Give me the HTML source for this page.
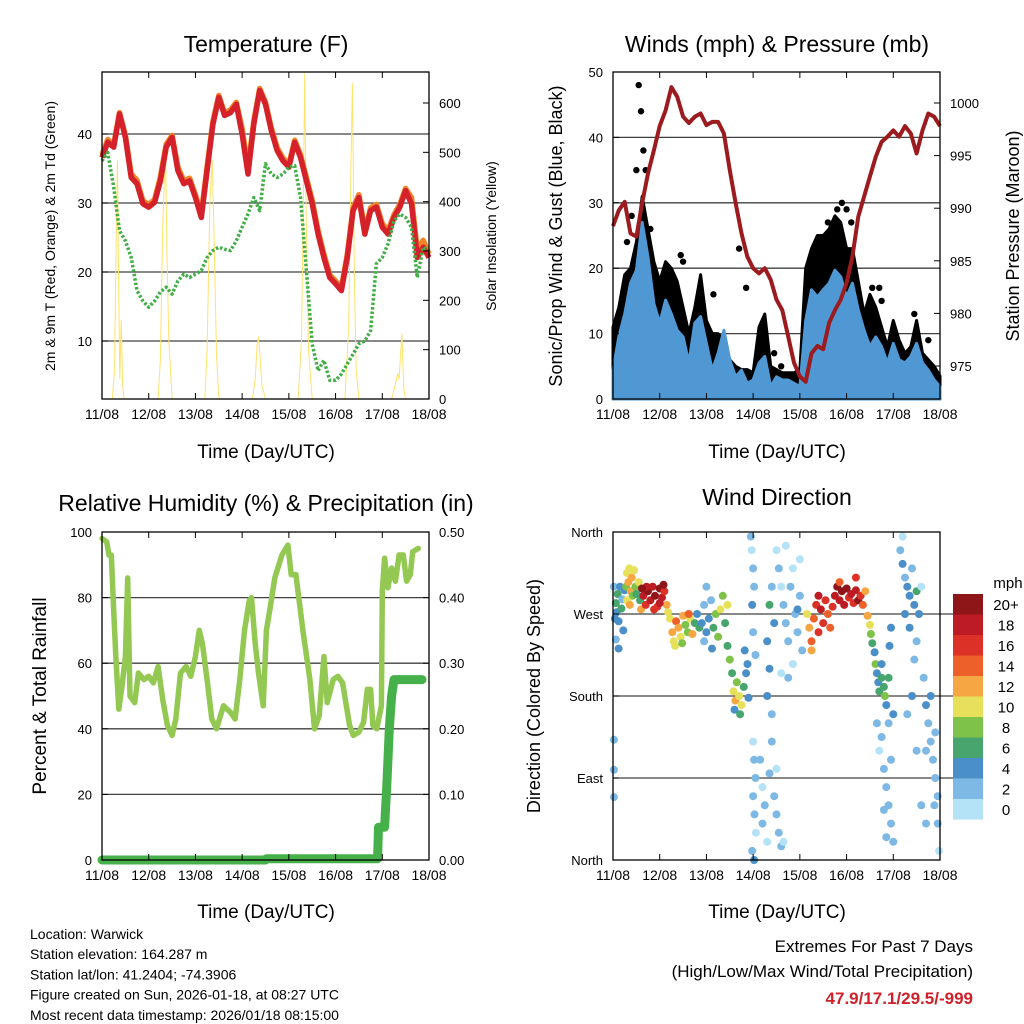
<!DOCTYPE html>
<html><head><meta charset="utf-8"><style>
html,body{margin:0;padding:0;background:#fff}
svg{display:block;font-family:"Liberation Sans",sans-serif}
</style></head><body>
<svg id="c" width="1024" height="1024" viewBox="0 0 1024 1024"></svg>
<script>
// ---------- DATA ----------
const tempDays=[0,0.125,0.25,0.375,0.5,0.625,0.75,0.875,1,1.125,1.25,1.375,1.5,1.625,1.75,1.875,2,2.125,2.25,2.375,2.5,2.625,2.75,2.875,3,3.125,3.25,3.375,3.5,3.625,3.75,3.875,4,4.125,4.25,4.375,4.5,4.625,4.75,4.875,5,5.125,5.25,5.375,5.5,5.625,5.75,5.875,6,6.125,6.25,6.375,6.5,6.625,6.75,6.875,7];
const temp2m=[36.6,38.8,38.1,42.9,39.5,33.7,32.8,29.9,29.4,30.1,33.2,38.1,39.5,34.7,32.8,33.2,30.8,27.9,34.7,41.4,45.3,42.7,43.1,44.3,40,34.2,41.4,46.3,44.3,40.5,37.6,36.1,35.2,38.8,36.6,33.2,29.9,25.5,22.1,19.2,18.3,17.3,22.1,28.9,30.8,25.5,28.9,29.4,26.5,25.5,27.9,29.4,31.8,29.9,22.1,23.6,22.1];
const temp9m=[37.0,39.2,38.4,43.1,39.8,34.2,33.3,30.3,29.8,30.5,33.8,38.5,39.8,35.2,33.2,33.6,31.2,28.4,35.3,41.8,45.6,43.0,43.5,44.6,40.8,35.0,41.9,46.6,44.6,40.9,38.0,36.5,35.6,39.1,37.0,33.7,30.4,26.0,22.6,19.6,18.7,17.7,22.6,29.3,31.2,26.0,29.3,29.8,27.0,26.0,28.3,29.8,32.1,30.8,23.2,24.6,22.6];
const dewpt=[36.1,37.3,32.3,26.0,24.5,22.1,17.3,15.8,14.9,15.8,17.1,17.8,16.8,18.7,19.7,19.2,19.7,20.2,22.1,23.1,23.6,23.3,23.1,24.5,26.5,28.4,30.8,28.9,35.7,34.2,33.7,34.2,35.2,35.4,30.8,20.2,9.6,5.7,7.2,4.3,4.3,5.2,6.7,8.1,9.6,10.0,11.5,21.2,22.1,24.1,27.4,28.4,27.9,26.5,19.2,23.6,23.1];
const solarDays=[0,0.22,0.27,0.3,0.33,0.36,0.38,0.41,0.44,0.47,1.2,1.25,1.3,1.36,1.39,1.43,1.5,2.2,2.25,2.31,2.36,2.4,2.45,2.5,3.22,3.28,3.32,3.35,3.38,3.42,3.5,4.2,4.27,4.31,4.34,4.37,4.42,4.5,5.2,5.28,5.33,5.36,5.4,5.44,5.5,6.2,6.28,6.33,6.36,6.42,6.46,6.5,7];
const solarVals=[0,0,60,300,484,200,40,160,30,0,0,80,350,511,300,120,0,0,100,400,484,330,90,0,0,40,110,126,90,30,0,0,120,400,660,380,100,0,0,150,480,640,260,60,0,0,30,52,40,133,20,0,0];
const presDays=tempDays;
const pressure=[988.3,989.8,990.6,987.6,987.3,990.5,993.3,995.5,997.8,999.3,1001.5,1000.6,998.7,998.1,998.7,999.0,997.9,998.2,998.2,997.1,993.6,990.5,987.6,985.4,984.3,983.8,984.3,983.2,981.3,980.3,977.8,975.3,974.0,973.5,976.2,976.9,976.6,979.1,980.3,981.3,982.9,985.4,989.2,991.1,993.0,994.9,996.3,996.8,997.4,996.8,997.8,997.1,995.2,997.4,999.0,998.7,997.8];
const windHigh=[4.4,9.5,13,17.7,19.7,27,21.7,14.6,11.6,15.1,13,10.5,9.5,5.5,11.6,12.6,8.5,4.4,7,10.5,6,3.4,4.4,2.4,2.9,5.5,6.5,1.9,3.4,2.9,2.9,2.4,1.9,12,16.7,15.6,16.7,17.7,19.7,18.7,15.6,17.7,13.6,10.5,8,9.5,8,5.5,8.5,6,5.5,6.5,8.5,5.5,4.4,2.9,1.9];
const gustHigh=[11,14,19,20,24,31,26,21,18,21,20,18,14,10,14,19,12,10,10,9,6,5,4.5,4.5,4,11,13,5,4.5,4,4,4,4.5,20,23,25,25,26,28,27,23,23,18,13,16,14,11,8,12,9,7,8,12,7,6,5,3.5];
const gustDotDays=[0.55,0.6,0.5,0.4,0.3,1.45,1.5,2.7,2.85,3.45,3.6,4.9,5.0,5.55,5.7,5.75,6.45,6.75,0.8,2.15,0.65,0.7,4.6,4.8,5.1];
const gustDotVals=[48,44,35,28,24,22,21,23,17,7,5,30,29,17,17,15,13,9,26,16,38,35,27,29,27];
const rhDays=[0,0.1,0.15,0.2,0.25,0.3,0.36,0.42,0.5,0.55,0.6,0.7,0.78,0.9,1,1.1,1.2,1.3,1.4,1.5,1.58,1.68,1.8,1.9,2,2.08,2.15,2.25,2.35,2.45,2.6,2.75,2.85,2.95,3.05,3.15,3.2,3.28,3.35,3.45,3.52,3.6,3.7,3.85,3.98,4.05,4.15,4.3,4.45,4.55,4.65,4.75,4.82,4.95,5.05,5.15,5.3,5.38,5.5,5.6,5.68,5.75,5.8,5.88,5.98,6,6.05,6.12,6.2,6.28,6.36,6.45,6.52,6.6,6.65,6.77];
const rhVals=[98,97,93,93,76,61,46,52,62,86,50,48,57,55,56,54,59,49,41,38,43,57,59,56,62,70,66,55,43,40,47,45,43,55,70,79,80,66,57,47,70,77,86,93,96,87,87,70,55,40,44,62,48,55,56,54,41,38,39,42,52,52,41,40,47,82,92,83,89,85,93,93,85,87,94,95];
const precipDays=[0,3.5,3.52,5.9,5.92,6.05,6.1,6.15,6.2,6.25,6.85];
const precipVals=[0,0,0.002,0.002,0.05,0.05,0.12,0.2,0.25,0.275,0.275];
const dirDay=[0.02,0.04,0.06,0.08,0.1,0.12,0.15,0.18,0.2,0.22,0.25,0.06,0.12,0.02,0.02,0.02,
0.28,0.3,0.33,0.35,0.38,0.4,0.42,0.45,0.48,0.3,0.36,0.5,0.55,0.58,
0.6,0.65,0.7,0.75,0.8,0.85,0.9,0.95,1.0,1.05,1.1,1.15,0.72,0.88,1.0,1.08,1.18,0.62,
1.22,1.27,1.3,1.35,1.4,1.45,1.5,1.55,1.6,1.65,1.7,1.75,1.8,1.85,1.33,1.48,1.62,
1.9,1.95,2.0,2.05,2.1,2.15,2.2,2.25,2.3,2.35,2.4,2.45,2.0,1.95,2.12,
2.45,2.5,2.55,2.58,2.62,2.65,2.7,2.75,2.8,2.85,2.88,2.6,2.72,2.82,2.9,
2.95,2.97,3.0,3.02,2.98,3.0,3.05,3.0,3.02,3.05,3.0,3.03,3.06,2.98,3.02,
3.15,3.2,3.25,3.2,3.3,3.35,3.4,3.45,3.5,3.55,3.5,3.6,3.4,3.3,3.35,3.3,3.35,3.4,3.45,3.65,
3.5,3.55,3.6,3.65,3.7,3.75,3.8,3.85,3.9,3.95,4.0,4.05,3.7,3.85,3.75,4.0,3.6,3.95,
4.15,4.2,4.25,4.3,4.35,4.4,4.45,4.5,4.55,4.6,4.65,4.7,4.25,4.4,
4.75,4.8,4.85,4.9,4.95,5.0,5.05,5.1,5.15,5.2,5.25,5.3,5.35,5.4,4.85,5.2,
5.45,5.5,5.52,5.55,5.6,5.62,
5.65,5.68,5.7,5.75,5.8,5.82,5.85,5.9,5.75,5.92,5.95,
5.65,5.7,5.75,5.8,5.85,5.9,5.95,6.0,5.8,5.9,6.0,5.95,5.85,
6.15,6.2,6.25,6.3,6.35,6.4,6.45,6.5,6.55,6.2,6.6,6.25,6.35,6.45,6.4,6.3,6.5,
6.65,6.7,6.75,6.8,6.85,6.9,6.95,6.7,6.8,6.9,6.95,6.98,6.6,6.5,6.7,6.88];
const dirDeg=[300,265,282,272,292,262,300,276,286,252,296,242,232,132,99,69,
300,315,305,320,295,310,290,318,300,285,280,292,305,285,
275,290,280,295,285,300,290,278,298,288,295,280,300,275,282,302,272,298,
265,250,240,262,255,245,268,258,250,265,248,260,270,255,235,238,270,
260,280,250,265,285,255,270,245,275,290,260,280,300,240,232,
235,220,205,185,175,195,180,170,190,205,215,165,160,230,178,
355,340,320,300,280,250,225,130,110,90,70,50,30,10,0,
110,80,60,40,20,95,130,70,50,30,100,15,160,180,210,240,280,300,260,20,
340,320,300,280,260,240,300,320,270,250,290,230,345,215,200,330,205,275,
270,255,240,265,280,250,275,260,285,270,255,278,230,290,
290,300,285,295,280,298,288,292,282,296,285,290,280,295,305,310,
268,258,248,238,228,215,
205,195,185,200,190,180,170,200,215,235,255,
150,120,135,100,80,60,40,20,55,150,160,110,25,
340,325,310,300,290,320,280,295,270,355,300,270,255,220,180,160,240,
200,170,150,130,110,90,70,120,180,140,40,10,60,120,40,60];
const dirSpd=[3,4,6,5,7,4,5,6,3,4,5,3,4,2,2,2,
8,11,12,10,13,12,9,11,8,10,12,7,10,6,
12,18,16,20,19,18,20,17,21,19,16,12,19,17,18,20,10,21,
10,12,11,14,13,10,12,9,8,10,12,7,5,6,10,9,14,
4,3,5,4,2,6,8,9,10,8,7,10,3,2,4,
6,8,7,10,12,9,11,10,6,5,4,4,7,4,5,
2,1,2,3,4,3,2,1,2,2,3,2,1,3,4,
2,1,2,2,1,3,2,2,2,3,1,2,2,5,4,5,6,2,4,1,
1,2,1,2,3,2,2,1,3,2,3,2,1,1,2,1,1,5,
10,12,14,15,16,17,18,16,17,15,14,16,12,18,
18,20,19,21,18,20,17,19,16,18,20,17,14,12,14,16,
12,10,8,6,5,8,
5,4,6,7,6,8,5,6,4,5,4,
2,1,2,3,2,3,2,3,2,2,4,3,2,
3,4,3,4,5,2,4,7,4,1,1,4,4,3,4,3,3,
3,4,3,2,3,2,3,2,4,3,2,1,2,3,2,3];
const dayLabels=["11/08","12/08","13/08","14/08","15/08","16/08","17/08","18/08"];
const tempTicks=[10,20,30,40];
const solarTicks=[0,100,200,300,400,500,600];
const windTicks=[0,10,20,30,40,50];
const presTicks=[975,980,985,990,995,1000];
const rhTicks=[0,20,40,60,80,100];
const precipTicks=[0,0.1,0.2,0.3,0.4,0.5];
const dirTicks=[0,90,180,270,360];
const dirLabels=["North","East","South","West","North"];
const cbLabels=["20+","18","16","14","12","10","8","6","4","2","0"];
const cbColors=["#8e1518","#bd1c24","#dc3127","#ee602a","#f6a744","#e7e05a","#7ec24a","#47a56d","#4a8fc7","#7db9e4","#b4e2f7"];

// ---------- HELPERS ----------
const NS="http://www.w3.org/2000/svg";
const svg=document.getElementById('c');
function mk(tag,attrs,parent){const e=document.createElementNS(NS,tag);for(const k in attrs)e.setAttribute(k,attrs[k]);(parent||svg).appendChild(e);return e;}
function txt(s,x,y,size,anchor,parent,extra){const t=mk('text',Object.assign({x:x,y:y,'font-size':size,'text-anchor':anchor||'middle',fill:'#000'},extra||{}),parent);t.textContent=s;return t;}
function lin(d0,d1,r0,r1){return v=>r0+(v-d0)*(r1-r0)/(d1-d0);}
function path(xs,ys,fx,fy){return xs.map((v,i)=>(i?'L':'M')+fx(v).toFixed(1)+','+fy(ys[i]).toFixed(1)).join('');}

function panel(name,x0,y0,x1,y1){
  const g=mk('g',{},svg);
  
  
  const fx=lin(0,7,x0,x1);
  return {g,fx,x0,y0,x1,y1};
}
function frame(p,fyL,grid,gridX2){
  const gg=mk('g',{},p.g);
  
  
  grid.forEach(v=>{const y=fyL(v);mk('line',{x1:p.x0,x2:gridX2||p.x1,y1:y,y2:y,stroke:'#000','stroke-width':1.3,'stroke-opacity':0.75},gg);});
}
function axes(p,leftTicks,fyL,leftFmt,rightTicks,fyR,rightFmt,lSize){
  const a=mk('g',{},p.g);
  
  
  mk('rect',{x:p.x0,y:p.y0,width:p.x1-p.x0,height:p.y1-p.y0,fill:'none',stroke:'#000','stroke-width':1.3},a);
  dayLabels.forEach((l,i)=>{const x=p.fx(i);
    mk('line',{x1:x,x2:x,y1:p.y1,y2:p.y1-6,stroke:'#000'},a);
    mk('line',{x1:x,x2:x,y1:p.y0,y2:p.y0+6,stroke:'#000'},a);
    const t=txt(l,x,p.y1+20,14,'middle',a);
    
    
  });
  leftTicks.forEach((v,i)=>{const y=fyL(v);
    mk('line',{x1:p.x0,x2:p.x0+6,y1:y,y2:y,stroke:'#000'},a);
    const t=txt(leftFmt(v,i),p.x0-10,y+5,lSize||13,'end',a);
    
    
  });
  if(rightTicks)rightTicks.forEach((v,i)=>{const y=fyR(v);
    mk('line',{x1:p.x1,x2:p.x1-6,y1:y,y2:y,stroke:'#000'},a);
    const t=txt(rightFmt(v,i),p.x1+10,y+5,13,'start',a);
    
    
  });
}
function title(s,x,y,size,name){const t=txt(s,x,y,size,'middle');return t;}
function vlabel(s,x,y,size,name){const t=txt(s,x,y,size,'middle',svg,{transform:'rotate(-90 '+x+' '+y+')'});return t;}

// ---------- PANEL 1: TEMPERATURE ----------
{
const p=panel('temperature-panel',102,72,429,399);
const fy=lin(20,40,272,134), fs=lin(0,600,399,103);
frame(p,fy,tempTicks);
const sol=mk('path',{d:path(solarDays,solarVals,p.fx,v=>Math.max(p.y0,fs(v))),fill:'none',stroke:'#ffe26a','stroke-width':1},p.g);


const o=mk('path',{d:path(tempDays,temp9m,p.fx,fy),fill:'none',stroke:'#f0852c','stroke-width':5.5,'stroke-linejoin':'round'},p.g);


const r=mk('path',{d:path(tempDays,temp2m,p.fx,fy),fill:'none',stroke:'#d4212a','stroke-width':5.5,'stroke-linejoin':'round'},p.g);


const d=mk('path',{d:path(tempDays,dewpt,p.fx,fy),fill:'none',stroke:'#3fae44','stroke-width':3.5,'stroke-dasharray':'2.5 2','stroke-linejoin':'round'},p.g);


axes(p,tempTicks,fy,v=>String(v),solarTicks,fs,v=>String(v));
title('Temperature (F)',266,52,23,'temperature-title');
vlabel('2m & 9m T (Red, Orange) & 2m Td (Green)',55,236,14,'temperature-y-axis-title');
vlabel('Solar Insolation (Yellow)',496,236,14,'solar-y-axis-title');
const xt=txt('Time (Day/UTC)',266,458,19);
}
// ---------- PANEL 2: WINDS ----------
{
const p=panel('winds-panel',613,72,940,399);
const fy=lin(0,50,399,72), fp=lin(975,1000,366,103);
frame(p,fy,[10,20,30,40]);
const ga=mk('path',{d:path(tempDays,gustHigh,p.fx,fy)+'L'+p.fx(7)+','+fy(0)+'L'+p.fx(0)+','+fy(0)+'Z',fill:'#000',stroke:'#000','stroke-width':3,'stroke-linejoin':'round'},p.g);


gustDotDays.forEach((d,i)=>{const c=mk('circle',{cx:p.fx(d),cy:fy(gustDotVals[i]),r:3.2,fill:'#000'},p.g);
 
 });
const wa=mk('path',{d:path(tempDays,windHigh,p.fx,fy)+'L'+p.fx(7)+','+fy(0)+'L'+p.fx(0)+','+fy(0)+'Z',fill:'#4f98d3',stroke:'#4f98d3','stroke-width':3,'stroke-linejoin':'round'},p.g);


const pr=mk('path',{d:path(presDays,pressure,p.fx,fp),fill:'none',stroke:'#9b1b1e','stroke-width':4,'stroke-linejoin':'round'},p.g);


axes(p,windTicks,fy,v=>String(v),presTicks,fp,v=>String(v));
title('Winds (mph) & Pressure (mb)',777,52,23,'winds-title');
vlabel('Sonic/Prop Wind & Gust (Blue, Black)',562,236,18,'wind-y-axis-title');
vlabel('Station Pressure (Maroon)',1019,236,18,'pressure-y-axis-title');
const xt=txt('Time (Day/UTC)',777,458,19);
}
// ---------- PANEL 3: RH & PRECIP ----------
{
const p=panel('humidity-panel',102,532,429,860);
const fy=lin(0,100,860,532), fr=lin(0,0.5,860,532);
frame(p,fy,[20,40,60,80]);
const rh=mk('path',{d:path(rhDays,rhVals,p.fx,fy),fill:'none',stroke:'#93c952','stroke-width':5.5,'stroke-linejoin':'round','stroke-linecap':'round'},p.g);


const pc=mk('path',{d:path(precipDays,precipVals,p.fx,fr),fill:'none',stroke:'#46b04a','stroke-width':9,'stroke-linejoin':'round','stroke-linecap':'round'},p.g);


axes(p,rhTicks,fy,v=>String(v),precipTicks,fr,v=>v.toFixed(2));
title('Relative Humidity (%) & Precipitation (in)',266,511,23,'humidity-title');
vlabel('Percent & Total Rainfall',46,696,19,'humidity-y-axis-title');
const xt=txt('Time (Day/UTC)',266,918,19);
}
// ---------- PANEL 4: WIND DIRECTION ----------
{
const p=panel('wind-direction-panel',613,532,940,860);
const fy=lin(0,360,860,532);
frame(p,fy,[90,180,270],953);
function col(s){let i=10-Math.floor(s/2);if(i<0)i=0;if(i>10)i=10;return cbColors[i];}
dirDay.forEach((d,i)=>{const c=mk('circle',{cx:p.fx(d).toFixed(1),cy:fy(dirDeg[i]).toFixed(1),r:4,fill:col(dirSpd[i])},p.g);
 
 });
axes(p,dirTicks,fy,(v,i)=>dirLabels[i],null,null,null,13);
const cb=mk('g',{},svg);


cbColors.forEach((c,i)=>{mk('rect',{x:953,y:594+i*20.5,width:30,height:20.6,fill:c},cb);
 const t=txt(cbLabels[i],1006,594+i*20.5+16,15,'middle',cb);
 
 });
const mph=txt('mph',1008,588,15,'middle',cb);
title('Wind Direction',777,505,23,'wind-direction-title');
vlabel('Direction (Colored By Speed)',540,696,18,'direction-y-axis-title');
const xt=txt('Time (Day/UTC)',777,918,19);
}
// ---------- FOOTER ----------
{
const info=["Location: Warwick","Station elevation: 164.287 m","Station lat/lon: 41.2404; -74.3906","Figure created on Sun, 2026-01-18, at 08:27 UTC","Most recent data timestamp: 2026/01/18 08:15:00"];
info.forEach((s,i)=>{const t=txt(s,30,939+i*20.2,14,'start');});
const e1=txt('Extremes For Past 7 Days',973,952,17,'end');
const e2=txt('(High/Low/Max Wind/Total Precipitation)',973,977,17,'end');
const e3=txt('47.9/17.1/29.5/-999',973,1004,17,'end',svg,{fill:'#d0202a','font-weight':'bold'});
}
</script>
</body></html>
